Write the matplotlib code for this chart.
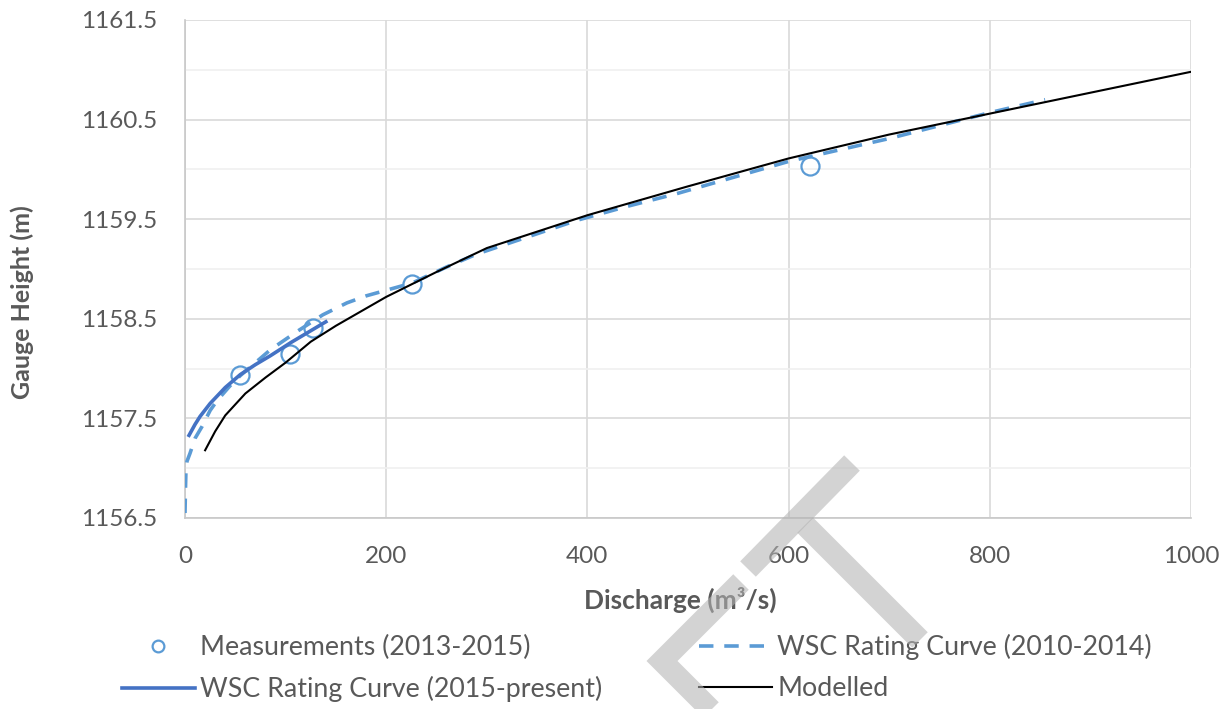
import numpy as np
import matplotlib.pyplot as plt
from matplotlib.lines import Line2D

plt.rcParams['font.family'] = ['Lato', 'DejaVu Sans']

# measurements (2013-2015)
meas_q = [54.7, 104.7, 127.0, 226.0, 621.0]
meas_h = [1157.94, 1158.15, 1158.41, 1158.85, 1160.03]

# WSC rating curve (2010-2014)
wsc10_q = [0, 0.5, 1, 2, 5, 10, 17, 25, 32, 45, 55, 85, 111, 137, 161, 180,
           226, 260, 290, 390, 440, 490, 600, 700, 800, 855]
wsc10_h = [1156.55, 1156.8, 1157.0, 1157.07, 1157.15, 1157.3, 1157.42, 1157.58,
           1157.68, 1157.83, 1157.93, 1158.19, 1158.37, 1158.54, 1158.66, 1158.73,
           1158.86, 1159.02, 1159.15, 1159.49, 1159.63, 1159.76, 1160.08, 1160.31,
           1160.57, 1160.70]

# WSC rating curve (2015-present)
wsc15_q = [4, 10, 15, 25, 40, 55, 70, 85, 105, 125, 140]
wsc15_h = [1157.33, 1157.44, 1157.52, 1157.65, 1157.81, 1157.94, 1158.04,
           1158.13, 1158.26, 1158.38, 1158.47]

# modelled
mod_q = [20, 30, 40, 60, 80, 100, 125, 150, 200, 250, 300, 400, 500, 600,
         700, 800, 900, 1000]
mod_h = [1157.18, 1157.37, 1157.53, 1157.75, 1157.91, 1158.06, 1158.27,
         1158.43, 1158.72, 1158.97, 1159.21, 1159.54, 1159.83, 1160.11,
         1160.35, 1160.56, 1160.77, 1160.98]

W, H = 1231, 709
fig = plt.figure(figsize=(W / 100, H / 100), dpi=100)
ax = fig.add_axes([185 / W, 1 - 518 / H, (1191 - 185) / W, (518 - 20) / H])

txt = '#595959'
ax.plot(meas_q, meas_h, 'o', ms=13, mfc='none', mec='#5B9BD5', mew=1.6,
        zorder=3, label='Measurements (2013-2015)')
ax.plot(wsc10_q, wsc10_h, color='#5B9BD5', lw=2.6, dashes=(4, 3),
        zorder=4, label='WSC Rating Curve (2010-2014)')
ax.plot(wsc15_q, wsc15_h, color='#4472C4', lw=2.6, zorder=5,
        label='WSC Rating Curve (2015-present)')
ax.plot(mod_q, mod_h, color='black', lw=1.5, zorder=6, label='Modelled')

ax.set_xlim(0, 1000)
ax.set_ylim(1156.5, 1161.5)
ax.set_xticks(np.arange(0, 1001, 200))
ax.set_yticks(np.arange(1156.5, 1161.6, 1.0))
ax.set_yticks(np.arange(1157.0, 1161.1, 1.0), minor=True)
ax.set_yticklabels(['%.1f' % v for v in np.arange(1156.5, 1161.6, 1.0)])
ax.grid(True, which='major', color='#d9d9d9', lw=1.2, zorder=0)
ax.grid(True, which='minor', axis='y', color='#f0f0f0', lw=1.2, zorder=0)
ax.set_axisbelow(True)
ax.tick_params(which='both', length=0, labelsize=17.5, colors=txt)
ax.tick_params(axis='y', pad=20)
ax.tick_params(axis='x', pad=20)
for s in ['top', 'right']:
    ax.spines[s].set_visible(False)
for s in ['left', 'bottom']:
    ax.spines[s].set_color('#c8c8c8')
    ax.spines[s].set_linewidth(1.2)

fig.text(680 / W, 1 - 600 / H, 'Discharge (m³/s)', ha='center', va='center',
         fontsize=19, fontweight='bold', color=txt)
fig.text(22 / W, 1 - 302 / H, 'Gauge Height (m)', ha='center', va='center',
         rotation=90, fontsize=18, fontweight='bold', color=txt)

hs, ls = ax.get_legend_handles_labels()
order = [0, 2, 1, 3]
leg = fig.legend([hs[i] for i in order], [ls[i] for i in order], ncol=2,
                 loc='center', bbox_to_anchor=(637 / W, 1 - 668 / H),
                 frameon=False, fontsize=19.3, handlelength=2.72,
                 handletextpad=0.2, columnspacing=3.6, labelspacing=0.6,
                 markerscale=0.65)
for t in leg.get_texts():
    t.set_color(txt)

# watermark
wm = dict(color='#b3b3b3', alpha=0.57, lw=15.8, solid_joinstyle='miter',
          solid_capstyle='butt', zorder=20)
for pts in [[(748, 569), (852, 463)], [(805, 525), (920, 640)],
            [(741, 582), (662, 661), (742, 741)]]:
    xs = [p[0] / W for p in pts]
    ys = [1 - p[1] / H for p in pts]
    fig.add_artist(Line2D(xs, ys, transform=fig.transFigure, **wm))

fig.savefig('out.png', dpi=100)
